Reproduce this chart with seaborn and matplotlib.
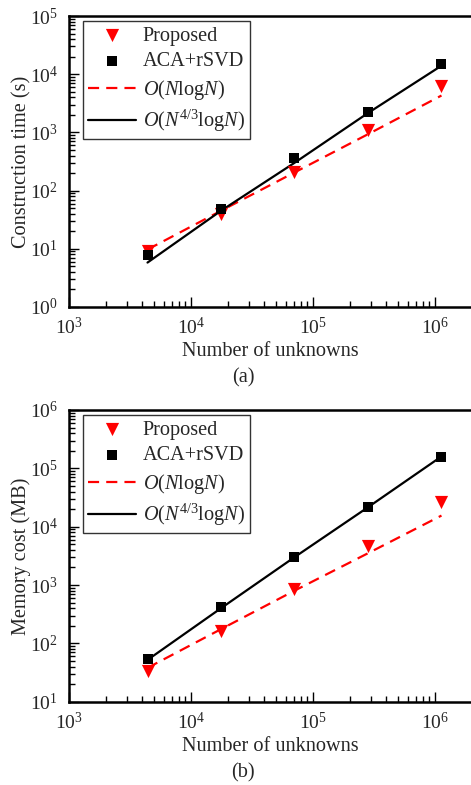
import numpy as np
import pandas as pd
import matplotlib
matplotlib.use('Agg')
import matplotlib.pyplot as plt
import seaborn as sns
from matplotlib.ticker import LogLocator, NullFormatter

# ---- data ----
unknowns = [4.4e3, 1.76e4, 7.05e4, 2.82e5, 1.13e6]

time_proposed = [9.0, 40, 210, 1100, 6300]
time_aca = [7.7, 49, 366, 2200, 14800]
time_nlogn = [9.7, 45, 205, 930, 4300]
time_n43logn = [5.8, 45, 300, 2150, 14000]

mem_proposed = [34, 165, 850, 4700, 26000]
mem_aca = [53, 414, 3060, 21400, 158000]
mem_nlogn = [38, 175, 800, 3500, 15500]
mem_n43logn = [52, 400, 3000, 21500, 160000]

series_labels = ['Proposed', 'ACA+rSVD',
                 r'$\mathit{O}(\mathit{N}\mathrm{log}\mathit{N})$',
                 r'$\mathit{O}(\mathit{N}^{4/3}\mathrm{log}\mathit{N})$']
ylabels = ['Construction time (s)', 'Memory cost (MB)']
captions = ['(a)', '(b)']
ylims = [(1, 1e5), (10, 1e6)]
xlim = (1e3, 10 ** 6.3)

sns.set_style('ticks')
plt.rcParams['font.family'] = ['Liberation Serif', 'DejaVu Serif']
plt.rcParams['mathtext.fontset'] = 'custom'
plt.rcParams['mathtext.rm'] = 'Liberation Serif'
plt.rcParams['mathtext.it'] = 'Liberation Serif:italic'
plt.rcParams['mathtext.bf'] = 'Liberation Serif:bold'

W, H = 471, 785
fig = plt.figure(figsize=(W / 100, H / 100), dpi=100)

RED = '#ff0000'
FS = 14.6

panels = [
    (time_proposed, time_aca, time_nlogn, time_n43logn, 16, 307),
    (mem_proposed, mem_aca, mem_nlogn, mem_n43logn, 410, 701.7),
]

for i, (prop, aca, nln, n43, ytop, ybot) in enumerate(panels):
    left = 69
    width = 3.3 * 122
    ax = fig.add_axes([left / W, 1 - ybot / H, width / W, (ybot - ytop) / H])
    df = pd.DataFrame({'N': unknowns, 'prop': prop, 'aca': aca,
                       'nlogn': nln, 'n43': n43})
    sns.lineplot(data=df, x='N', y='nlogn', ax=ax, color=RED, lw=1.6,
                 dashes=False, label=series_labels[2], zorder=2)
    ax.lines[-1].set_dashes((5, 3.2))
    sns.lineplot(data=df, x='N', y='n43', ax=ax, color='black', lw=1.6,
                 label=series_labels[3], zorder=2)
    sns.scatterplot(data=df, x='N', y='prop', ax=ax, marker='v', s=90,
                    color=RED, edgecolor=RED, linewidth=0,
                    label=series_labels[0], zorder=3)
    sns.scatterplot(data=df, x='N', y='aca', ax=ax, marker='s', s=44,
                    color='black', edgecolor='black', linewidth=0,
                    label=series_labels[1], zorder=4)
    ax.set_xscale('log')
    ax.set_yscale('log')
    ax.set_xlim(*xlim)
    ax.set_ylim(*ylims[i])

    ax.xaxis.set_major_locator(LogLocator(base=10, numticks=10))
    ax.xaxis.set_minor_locator(LogLocator(base=10, subs=np.arange(2, 10), numticks=20))
    ax.yaxis.set_major_locator(LogLocator(base=10, numticks=10))
    ax.yaxis.set_minor_locator(LogLocator(base=10, subs=np.arange(2, 10), numticks=20))
    ax.xaxis.set_minor_formatter(NullFormatter())
    ax.yaxis.set_minor_formatter(NullFormatter())

    ax.tick_params(which='major', direction='in', length=7, width=1.0,
                   labelsize=14, top=False, right=False, color='black')
    ax.tick_params(which='minor', direction='in', length=4, width=1.0,
                   top=False, right=False, color='black')
    ax.tick_params(axis='x', which='major', pad=7)
    ax.tick_params(axis='y', which='major', pad=8)
    for sp in ax.spines.values():
        sp.set_linewidth(1.8)
        sp.set_color('black')
        sp.set_visible(True)

    ax.set_xlabel('Number of unknowns', fontsize=FS, labelpad=3)
    ax.set_ylabel(ylabels[i], fontsize=FS, labelpad=-1)

    h, l = ax.get_legend_handles_labels()
    hd = dict(zip(l, h))
    leg = ax.legend([hd[s] for s in series_labels], series_labels,
                    loc='upper left', bbox_to_anchor=(0.034, 0.982),
                    borderaxespad=0, fontsize=FS, frameon=True, fancybox=False,
                    edgecolor='#333333', framealpha=1, handlelength=2.4,
                    handletextpad=0.3, labelspacing=0.32, borderpad=0.25,
                    scatterpoints=1)
    leg.get_frame().set_linewidth(1.0)

    fig.text(243 / W, 1 - (378 + i * 395) / H, captions[i], ha='center',
             va='center', fontsize=FS)

fig.savefig('out.png', dpi=100)
